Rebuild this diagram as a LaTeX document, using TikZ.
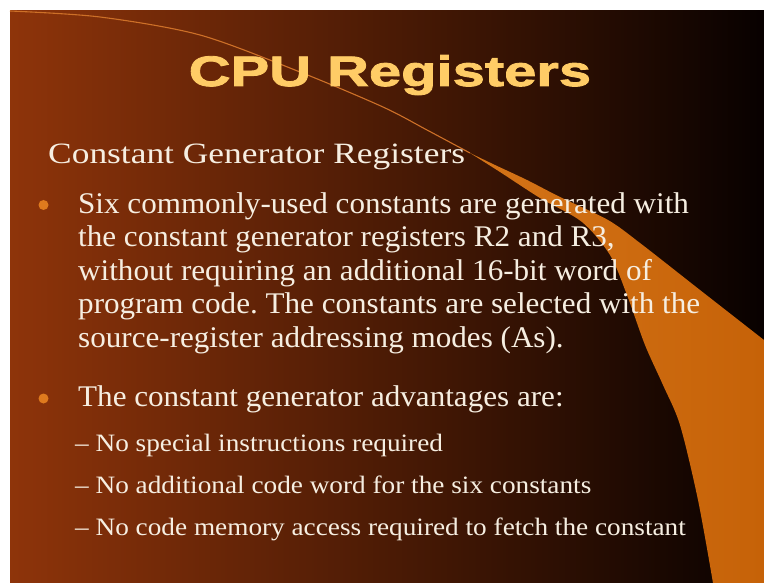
\documentclass[tikz,border=0pt]{standalone}
\usepackage{fontspec}
\setmainfont{Liberation Serif}
\newfontfamily\subtitlefont{Liberation Serif}[FakeStretch=1.2]
\newfontfamily\bodyfont{Liberation Serif}[FakeStretch=1.037]
\newfontfamily\subbfont{Liberation Serif}[FakeStretch=1.09]
\newfontfamily\titlefont{Liberation Sans}[FakeStretch=1.36,BoldFeatures={FakeBold=2}]
\frenchspacing
\definecolor{bgL}{RGB}{142,52,10}
\definecolor{bgR}{RGB}{8,1,0}
\definecolor{wedgeL}{RGB}{212,116,24}
\definecolor{wedgeR}{RGB}{198,98,8}
\definecolor{titlecol}{RGB}{255,204,102}
\definecolor{txt}{RGB}{246,238,225}
\definecolor{dotcol}{RGB}{222,122,30}
\definecolor{linecol}{RGB}{205,112,40}
\tikzset{
  subtitletext/.style={anchor=base west, inner sep=0pt, text=txt, font=\subtitlefont\fontsize{29.5}{34}\selectfont},
  bodytext/.style={anchor=base west, inner sep=0pt, text=txt, font=\bodyfont\fontsize{30}{34}\selectfont},
  subtext/.style={anchor=base west, inner sep=0pt, text=txt, font=\subbfont\fontsize{25}{30}\selectfont},
  bulletdot/.style={circle, fill=dotcol, inner sep=0pt, minimum size=10pt},
}
\begin{document}
\begin{tikzpicture}[x=1pt,y=-1pt]
\useasboundingbox (0,0) rectangle (764,583);
\fill[white] (0,0) rectangle (764,583);
\shade[left color=bgL, right color=bgR] (10,11) rectangle (764,583);
% orange wedge
\shade[left color=wedgeL, right color=wedgeR]
  (470,153) -- plot[smooth] coordinates {(470,153) (500,172) (540,198) (582,222) (610,255) (627,295) (645,345) (663,385) (680,425) (698,500) (713,583)}
  -- (764,583) -- (764,340)
  -- plot[smooth] coordinates {(764,340) (700,290) (640,243) (608,220) (560,197) (527,180) (495,165) (470,153)} -- cycle;
% thin line
\draw[linecol, line width=1.1pt] plot[smooth] coordinates {(10,11) (100,17) (200,35) (300,72) (383,107) (427,130) (470,153)};
% title
\node[anchor=base, inner sep=0pt, text=titlecol, font=\titlefont\bfseries\fontsize{42.6}{50}\selectfont] (title) at (390,86) {CPU Registers};
% subtitle
\node[subtitletext] (sub) at (48,163.3) {Constant Generator Registers};
% bullet 1
\node[bulletdot] (d1) at (43.5,205) {};
\node[bodytext] (l1) at (78,213.3) {Six commonly-used constants are generated with};
\node[bodytext] (l2) at (78,246.7) {the constant generator registers R2 and R3,};
\node[bodytext] (l3) at (78,280.2) {without requiring an additional 16-bit word of};
\node[bodytext] (l4) at (78,313.6) {program code. The constants are selected with the};
\node[bodytext] (l5) at (78,347.6) {source-register addressing modes (As).};
% bullet 2
\node[bulletdot] (d2) at (43.5,398.5) {};
\node[bodytext] (l6) at (78,406.7) {The constant generator advantages are:};
% sub bullets
\node[subtext] (s1) at (75,451.7) {\textendash{} No special instructions required};
\node[subtext] (s2) at (75,493.2) {\textendash{} No additional code word for the six constants};
\node[subtext] (s3) at (75,535) {\textendash{} No code memory access required to fetch the constant};
\end{tikzpicture}
\end{document}
